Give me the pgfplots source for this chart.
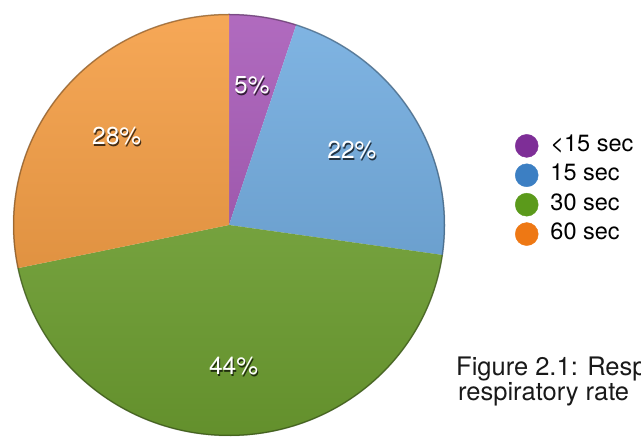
\documentclass[border=0pt]{standalone}
\usepackage{pgfplots}
\pgfplotsset{compat=1.18}
\usepackage{pgfplotstable}
\usepackage{fontspec}
\setmainfont{TeX Gyre Heros}

\definecolor{pie0}{HTML}{A453B5}
\definecolor{pie1}{HTML}{6CA9DF}
\definecolor{pie2}{HTML}{74A834}
\definecolor{pie3}{HTML}{F59A3C}
\definecolor{leg0}{HTML}{7E2E97}
\definecolor{leg1}{HTML}{3C7FC3}
\definecolor{leg2}{HTML}{5B9A1B}
\definecolor{leg3}{HTML}{EE7814}

\pgfplotstableread{
share
5
22
44
28
}\piedata

\newcommand\labfont{\fontsize{24.5}{26}\selectfont}
\newcommand\legfont{\fontsize{23.5}{25}\selectfont}
\newcommand\capfont{\fontsize{25.5}{26}\selectfont}

\begin{document}
\begin{tikzpicture}
% cumulative angles from the table (clockwise from the top)
\def\total{0}
\pgfplotsforeachungrouped \i in {0,...,3}{%
  \pgfplotstablegetelem{\i}{share}\of\piedata
  \pgfmathsetmacro{\total}{\total+\pgfplotsretval}%
}
\def\cum{0}
\pgfplotsforeachungrouped \i in {0,...,3}{%
  \pgfplotstablegetelem{\i}{share}\of\piedata
  \expandafter\xdef\csname vA\i\endcsname{\pgfplotsretval}%
  \pgfmathsetmacro{\s}{90-\cum/\total*360}%
  \pgfmathsetmacro{\cum}{\cum+\csname vA\i\endcsname}%
  \pgfmathsetmacro{\e}{90-\cum/\total*360}%
  \pgfmathsetmacro{\m}{(\s+\e)/2}%
  \expandafter\xdef\csname sA\i\endcsname{\s}%
  \expandafter\xdef\csname eA\i\endcsname{\e}%
  \expandafter\xdef\csname mA\i\endcsname{\m}%
}
\path[use as bounding box] (0,0) rectangle (641pt,440pt);
\begin{axis}[
  at={(0pt,0pt)}, anchor=south west,
  x=216pt, y=211pt,
  xmin=-1.0602, xmax=1.9074, ymin=-1.019, ymax=1.0664,
  hide axis, clip=false,
  legend image code/.code={\fill[#1] (0pt,0pt) circle[radius=11.5pt];},
  legend cell align=left,
  legend style={at={(0.7985,0.70)}, anchor=north west, draw=none, fill=none,
    font=\legfont, row sep=6pt, column sep=11pt,
    nodes={inner sep=1pt, text height=16pt, text depth=5pt}},
]
\pgfplotsinvokeforeach{0,...,3}{%
  \fill[pie#1] (0,0) -- ({cos(\csname sA#1\endcsname)},{sin(\csname sA#1\endcsname)})
    arc[start angle=\csname sA#1\endcsname, end angle=\csname eA#1\endcsname,
        x radius=216pt, y radius=211pt] -- cycle;
}
\shade[top color=white, bottom color=black, fill opacity=0.14]
  (0,0) ellipse[x radius=216pt, y radius=211pt];
\draw[black, opacity=0.3, line width=1.5pt] (0,0) ellipse[x radius=215.5pt, y radius=210.5pt];
\pgfplotsinvokeforeach{0,...,3}{%
  \node[text=black, opacity=0.7, font=\labfont, xshift=1pt, yshift=-2pt]
    at ({0.67*cos(\csname mA#1\endcsname)},{0.67*sin(\csname mA#1\endcsname)})
    {\csname vA#1\endcsname\%};
  \node[text=white, font=\labfont]
    at ({0.67*cos(\csname mA#1\endcsname)},{0.67*sin(\csname mA#1\endcsname)})
    {\csname vA#1\endcsname\%};
}
\addlegendimage{leg0}\addlegendentry{<15 sec}
\addlegendimage{leg1}\addlegendentry{15 sec}
\addlegendimage{leg2}\addlegendentry{30 sec}
\addlegendimage{leg3}\addlegendentry{60 sec}
\node[anchor=base west, inner sep=0pt, font=\capfont, text=black!90]
  at (axis description cs:0.7114,0.1477) {Figure 2.1: Resp};
\node[anchor=base west, inner sep=0pt, font=\capfont, text=black!90]
  at (axis description cs:0.7145,0.0909) {respiratory rate};
\end{axis}
\end{tikzpicture}
\end{document}
